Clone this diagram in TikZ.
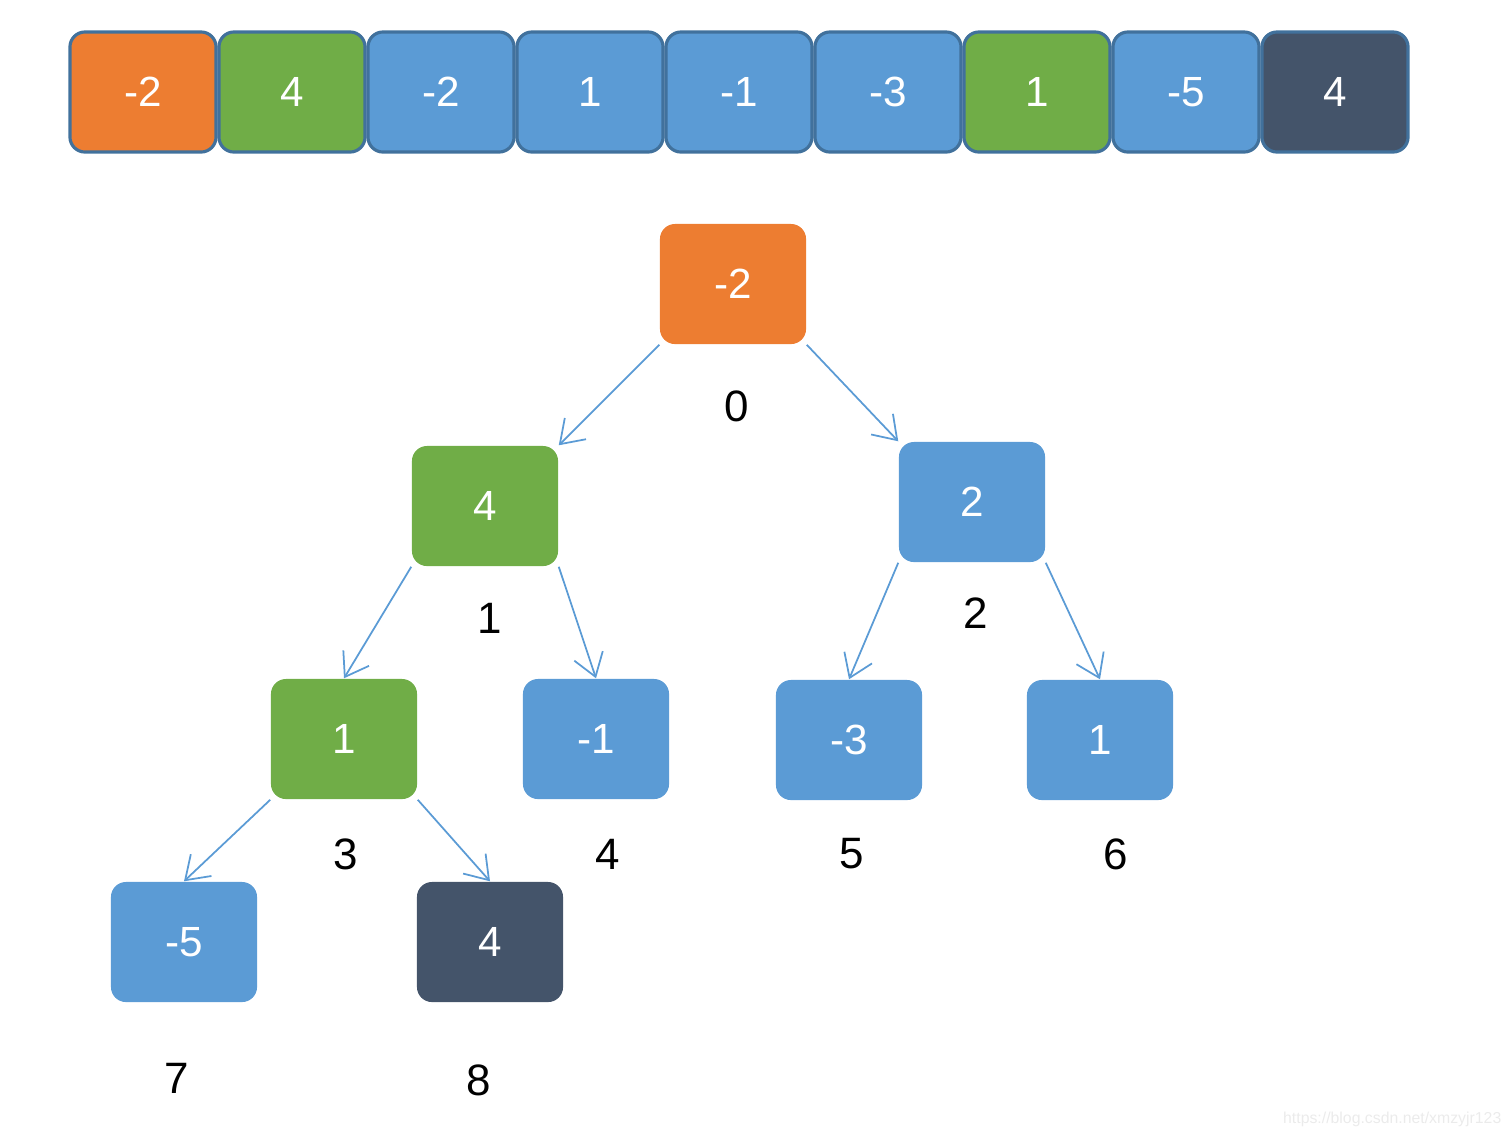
\documentclass[tikz,border=0pt]{standalone}
\usepackage{fontspec}
\usepackage{tikz}
\usepackage{xcolor}
\setmainfont{Liberation Sans}
\usetikzlibrary{arrows.meta}

\definecolor{heaporange}{HTML}{ED7D31}
\definecolor{heapgreen}{HTML}{70AD47}
\definecolor{heapblue}{HTML}{5B9BD5}
\definecolor{heapdark}{HTML}{44546A}
\definecolor{heapborder}{HTML}{41719C}

\tikzset{
  cell/.style={rounded corners=0.15cm, minimum width=1.46cm, minimum height=1.2cm,
               inner sep=0pt, text=white, font=\fontsize{12}{14}\selectfont},
  slot/.style={cell, draw=heapborder, line width=0.9pt},
  idx/.style={font=\fontsize{12.5}{14}\selectfont},
  link/.style={draw=heapblue, line width=0.5pt, -{Straight Barb[length=2.2mm, width=3mm]}}
}

\begin{document}
\begin{tikzpicture}[x=0.01cm, y=-0.01cm]
  \useasboundingbox (0,0) rectangle (1512,1138);

  % array
  \foreach \v/\c [count=\i from 0] in {-2/heaporange, 4/heapgreen, -2/heapblue, 1/heapblue,
      -1/heapblue, -3/heapblue, 1/heapgreen, -5/heapblue, 4/heapdark}
    \node[slot, fill=\c] (a\i) at (143+149*\i, 92) {\v};

  % tree
  \node[cell, fill=heaporange] (t0) at (733, 284) {-2};
  \node[cell, fill=heapgreen]  (t1) at (485, 506) {4};
  \node[cell, fill=heapblue]   (t2) at (972, 502) {2};
  \node[cell, fill=heapgreen]  (t3) at (344, 739) {1};
  \node[cell, fill=heapblue]   (t4) at (596, 739) {-1};
  \node[cell, fill=heapblue]   (t5) at (849, 740) {-3};
  \node[cell, fill=heapblue]   (t6) at (1100, 740) {1};
  \node[cell, fill=heapblue]   (t7) at (184, 942) {-5};
  \node[cell, fill=heapdark]   (t8) at (490, 942) {4};

  \node[idx] (i0) at (737, 406) {0};
  \node[idx] (i1) at (490, 618) {1};
  \node[idx] (i2) at (976, 613) {2};
  \node[idx] (i3) at (346, 854) {3};
  \node[idx] (i4) at (608, 854) {4};
  \node[idx] (i5) at (852, 854) {5};
  \node[idx] (i6) at (1116, 854) {6};
  \node[idx] (i7) at (177, 1078) {7};
  \node[idx] (i8) at (479, 1080) {8};

  \draw[link] (t0.south west) -- (t1.north east);
  \draw[link] (t0.south east) -- (t2.north west);
  \draw[link] (t1.south west) -- (t3.north);
  \draw[link] (t1.south east) -- (t4.north);
  \draw[link] (t2.south west) -- (t5.north);
  \draw[link] (t2.south east) -- (t6.north);
  \draw[link] (t3.south west) -- (t7.north);
  \draw[link] (t3.south east) -- (t8.north);

  \node[anchor=east, inner sep=0pt, text=black!8, font=\fontsize{4.5}{5}\selectfont] (mark)
    at (1502, 1119) {https://blog.csdn.net/xmzyjr123};
\end{tikzpicture}
\end{document}
